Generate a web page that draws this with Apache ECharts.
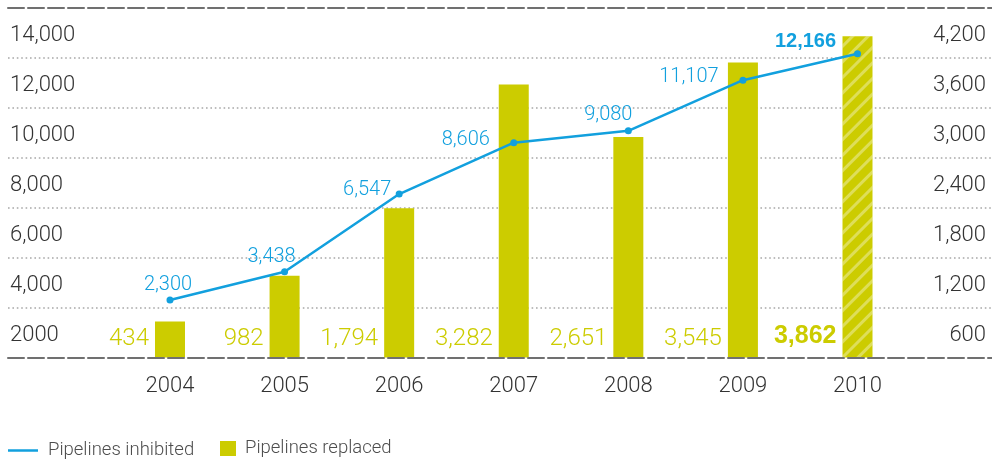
<!DOCTYPE html>
<html>
<head>
<meta charset="utf-8">
<script src="https://cdn.jsdelivr.net/npm/echarts@6/dist/echarts.min.js"></script>
<style>
  html, body { margin: 0; padding: 0; background: #ffffff; }
  #chart { width: 992px; height: 460px; }
</style>
</head>
<body>
<div id="chart"></div>
<script>
// Pipeline activity by year
const years = ['2004', '2005', '2006', '2007', '2008', '2009', '2010'];
const pipelinesInhibited = [2300, 3438, 6547, 8606, 9080, 11107, 12166];
const pipelinesReplaced = [434, 982, 1794, 3282, 2651, 3545, 3862];
const leftTickLabels = ['', '2000', '4,000', '6,000', '8,000', '10,000', '12,000', '14,000'];
const rightTickLabels = ['', '600', '1,200', '1,800', '2,400', '3,000', '3,600', '4,200'];

// where each value label of the line sits, relative to its point
const lineLabelOffsets = [[-2, -15], [-13, -15], [-32, -4], [-48, -3], [-20, -16], [-54, -3], [-52, -12]];
const latestIndex = years.length - 1;

const BLUE = '#12a0de';
const OLIVE = '#cccc00';
const FONT = "'Liberation Sans', Arial, Helvetica, sans-serif";
const LIGHT = "Roboto, 'Liberation Sans', Arial, sans-serif";

const fmt = v => Number(v).toLocaleString('en-US');

const chart = echarts.init(document.getElementById('chart'), null, { renderer: 'canvas' });

const TOP = 8;
const BOTTOM = 102.5;
const dashed = { color: '#707070', width: 2, type: [16, 4] };

// Tick labels sit in the band just below their grid line: the label axes
// tick at half steps and only the in-between ticks carry text.
const halfStepLabel = (labels) => (v, i) => (i % 2 === 1 ? labels[(i + 1) / 2] : '');
const bandLabel = {
  inside: true, fontSize: 22, color: '#333333', fontFamily: LIGHT, fontWeight: 300,
  verticalAlign: 'top', lineHeight: 6, showMinLabel: true, showMaxLabel: true, hideOverlap: false
};

const option = {
  animation: false,
  backgroundColor: '#ffffff',
  textStyle: { fontFamily: FONT },
  grid: [
    { left: 8, right: 0, top: TOP, bottom: BOTTOM },
    { left: 112.7, right: 77.2, top: TOP, bottom: BOTTOM }
  ],
  legend: [
    {
      left: 3, top: 436, padding: 5,
      itemWidth: 30, itemHeight: 2.5, icon: 'rect',
      data: ['Pipelines inhibited'],
      textStyle: { fontSize: 18.5, color: '#4d4d4d', fontFamily: LIGHT, fontWeight: 300, padding: [0, 0, 8, 5] }
    },
    {
      left: 215, top: 434, padding: 5,
      itemWidth: 16, itemHeight: 15, icon: 'rect',
      data: ['Pipelines replaced'],
      textStyle: { fontSize: 18.5, color: '#4d4d4d', fontFamily: LIGHT, fontWeight: 300, padding: [0, 0, 0, 4] }
    }
  ],
  xAxis: [
    // frame lines across the full width
    {
      gridIndex: 0, type: 'value', min: 0, max: 1, position: 'bottom', z: 10,
      axisLine: { show: true, onZero: false, lineStyle: dashed },
      axisTick: { show: false }, axisLabel: { show: false }, splitLine: { show: false }
    },
    {
      gridIndex: 0, type: 'value', min: 0, max: 1, position: 'top', z: 10,
      axisLine: { show: true, onZero: false, lineStyle: dashed },
      axisTick: { show: false }, axisLabel: { show: false }, splitLine: { show: false }
    },
    // years
    {
      gridIndex: 1, type: 'category', data: years, position: 'bottom',
      axisLine: { show: false }, axisTick: { show: false },
      axisLabel: { fontSize: 22, color: '#333333', margin: 18, fontFamily: LIGHT, fontWeight: 300 }
    }
  ],
  yAxis: [
    // left tick labels
    {
      gridIndex: 0, type: 'value', min: 0, max: 14000, interval: 1000, position: 'left',
      axisLine: { show: false }, axisTick: { show: false },
      axisLabel: Object.assign({}, bandLabel, { margin: 2, formatter: halfStepLabel(leftTickLabels) }),
      splitLine: { show: false }
    },
    // right tick labels
    {
      gridIndex: 0, type: 'value', min: 0, max: 4200, interval: 300, position: 'right',
      axisLine: { show: false }, axisTick: { show: false },
      axisLabel: Object.assign({}, bandLabel, { margin: 6, formatter: halfStepLabel(rightTickLabels) }),
      splitLine: { show: false }
    },
    // dotted grid lines across the full width
    {
      gridIndex: 0, type: 'value', min: 0, max: 14000, interval: 2000, position: 'left',
      axisLine: { show: false }, axisTick: { show: false }, axisLabel: { show: false },
      splitLine: {
        show: true, showMinLine: false, showMaxLine: false,
        lineStyle: { color: '#a8a8a8', width: 1.6, type: [1.6, 2.8] }
      }
    },
    {
      gridIndex: 1, type: 'value', min: 0, max: 14000, position: 'left', show: false
    },
    {
      gridIndex: 1, type: 'value', min: 0, max: 4200, position: 'right', show: false
    }
  ],
  series: [
    {
      name: 'Pipelines replaced',
      type: 'bar',
      xAxisIndex: 2, yAxisIndex: 4,
      barWidth: 30,
      itemStyle: { color: OLIVE },
      label: {
        show: true,
        position: 'insideBottom',
        distance: 0,
        align: 'right',
        verticalAlign: 'middle',
        offset: [-21, -19],
        fontSize: 24,
        color: OLIVE,
        fontFamily: LIGHT,
        fontWeight: 300,
        formatter: p => fmt(p.value)
      },
      data: pipelinesReplaced.map((v, i) => i === latestIndex ? {
        value: v,
        itemStyle: {
          color: OLIVE,
          decal: {
            symbol: 'rect',
            symbolSize: 1,
            color: 'rgba(255,255,255,0.35)',
            dashArrayX: [1, 0],
            dashArrayY: [3, 7.6],
            rotation: -Math.PI / 4
          }
        },
        label: { fontWeight: 'bold', fontSize: 25, fontFamily: FONT, offset: [-21, -21] }
      } : v)
    },
    {
      name: 'Pipelines inhibited',
      type: 'line',
      xAxisIndex: 2, yAxisIndex: 3,
      symbol: 'circle',
      symbolSize: 7,
      lineStyle: { color: BLUE, width: 2.5 },
      itemStyle: { color: BLUE },
      label: {
        show: true,
        position: 'inside',
        align: 'center',
        verticalAlign: 'middle',
        fontSize: 20,
        color: BLUE,
        fontFamily: LIGHT,
        fontWeight: 300,
        formatter: p => fmt(p.value)
      },
      data: pipelinesInhibited.map((v, i) => ({
        value: v,
        label: i === latestIndex
          ? { offset: lineLabelOffsets[i], fontWeight: 'bold', fontFamily: FONT }
          : { offset: lineLabelOffsets[i] }
      }))
    }
  ]
};

chart.setOption(option);
</script>
</body>
</html>
